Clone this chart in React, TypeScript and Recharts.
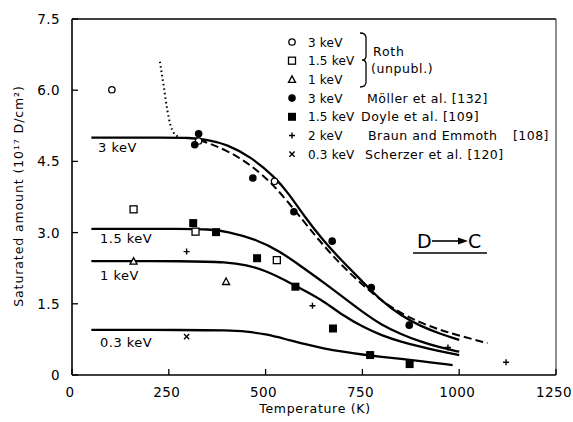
import React from 'react';
import { ComposedChart, Line, Scatter, XAxis, YAxis } from 'recharts';

const FONT = '"DejaVu Sans", "Liberation Sans", sans-serif';

const xTicks = [0, 250, 500, 750, 1000, 1250];
const yTicks = [0, 1.5, 3.0, 4.5, 6.0, 7.5];
const yTickLabels = ['0', '1.5', '3.0', '4.5', '6.0', '7.5'];

// measured points
const roth3 = [{ T: 103, v: 6.01 }, { T: 327, v: 4.93 }, { T: 523, v: 4.08 }];
const roth15 = [{ T: 159, v: 3.49 }, { T: 319, v: 3.02 }, { T: 529, v: 2.42 }];
const roth1 = [{ T: 159, v: 2.4 }, { T: 398, v: 1.97 }];
const moller3 = [
  { T: 327, v: 5.08 }, { T: 317, v: 4.85 }, { T: 467, v: 4.15 }, { T: 573, v: 3.44 },
  { T: 672, v: 2.82 }, { T: 773, v: 1.84 }, { T: 871, v: 1.05 },
];
const doyle15 = [
  { T: 313, v: 3.2 }, { T: 372, v: 3.01 }, { T: 478, v: 2.46 }, { T: 577, v: 1.86 },
  { T: 674, v: 0.98 }, { T: 770, v: 0.42 }, { T: 872, v: 0.23 },
];
const braun2 = [{ T: 296, v: 2.6 }, { T: 621, v: 1.46 }, { T: 971, v: 0.58 }, { T: 1121, v: 0.27 }];
const scherzer03 = [{ T: 296, v: 0.81 }];

// model curves
const curve3 = [
  { T: 50, v: 5.0 }, { T: 250, v: 5.0 }, { T: 300, v: 5.0 }, { T: 350, v: 4.96 }, { T: 400, v: 4.86 },
  { T: 461, v: 4.6 }, { T: 523, v: 4.18 }, { T: 560, v: 3.82 }, { T: 600, v: 3.34 },
  { T: 650, v: 2.82 }, { T: 700, v: 2.38 }, { T: 750, v: 1.97 }, { T: 800, v: 1.55 },
  { T: 850, v: 1.25 }, { T: 900, v: 1.03 }, { T: 950, v: 0.87 }, { T: 1000, v: 0.74 },
];
const dashed3 = [
  { T: 330, v: 4.95 }, { T: 400, v: 4.74 }, { T: 461, v: 4.43 }, { T: 523, v: 4.0 },
  { T: 600, v: 3.22 }, { T: 650, v: 2.72 }, { T: 700, v: 2.28 }, { T: 750, v: 1.9 },
  { T: 800, v: 1.56 }, { T: 850, v: 1.3 }, { T: 900, v: 1.1 }, { T: 950, v: 0.95 },
  { T: 1000, v: 0.83 }, { T: 1073, v: 0.67 },
];
const dotted3 = [
  { T: 227, v: 6.6 }, { T: 237, v: 6.08 }, { T: 246, v: 5.59 }, { T: 254, v: 5.27 },
  { T: 263, v: 5.1 }, { T: 275, v: 5.02 },
];
const curve15 = [
  { T: 50, v: 3.08 }, { T: 300, v: 3.08 }, { T: 350, v: 3.07 }, { T: 400, v: 3.03 }, { T: 478, v: 2.85 },
  { T: 538, v: 2.6 }, { T: 590, v: 2.3 }, { T: 650, v: 1.95 }, { T: 700, v: 1.64 },
  { T: 750, v: 1.33 }, { T: 800, v: 1.05 }, { T: 850, v: 0.86 }, { T: 900, v: 0.7 },
  { T: 950, v: 0.58 }, { T: 1000, v: 0.49 },
];
const curve1 = [
  { T: 50, v: 2.4 }, { T: 300, v: 2.4 }, { T: 400, v: 2.38 }, { T: 450, v: 2.32 }, { T: 500, v: 2.2 },
  { T: 550, v: 2.0 }, { T: 600, v: 1.78 }, { T: 650, v: 1.56 }, { T: 700, v: 1.25 },
  { T: 750, v: 1.02 }, { T: 800, v: 0.83 }, { T: 850, v: 0.7 }, { T: 900, v: 0.6 },
  { T: 950, v: 0.5 }, { T: 1000, v: 0.42 },
];
const curve03 = [
  { T: 50, v: 0.95 }, { T: 300, v: 0.95 }, { T: 400, v: 0.94 }, { T: 450, v: 0.92 }, { T: 500, v: 0.86 },
  { T: 550, v: 0.76 }, { T: 600, v: 0.65 }, { T: 650, v: 0.56 }, { T: 700, v: 0.49 }, { T: 750, v: 0.43 },
  { T: 800, v: 0.38 }, { T: 850, v: 0.34 }, { T: 900, v: 0.29 }, { T: 983, v: 0.21 },
];

const legendRows = [
  { energy: '3 keV', marker: 'openCircle' },
  { energy: '1.5 keV', marker: 'openSquare' },
  { energy: '1 keV', marker: 'openTriangle' },
  { energy: '3 keV', marker: 'dot', author: 'Möller et al. [132]', ax: 367 },
  { energy: '1.5 keV', marker: 'square', author: 'Doyle et al. [109]', ax: 361 },
  { energy: '2 keV', marker: 'plus', author: 'Braun and Emmoth', ax: 368, ref: '[108]' },
  { energy: '0.3 keV', marker: 'cross', author: 'Scherzer et al. [120]', ax: 365 },
];

const OpenCircle = ({ cx, cy }: any) => <circle cx={cx} cy={cy} r={3.2} fill="#fff" stroke="#000" strokeWidth={1.3} />;
const OpenSquare = ({ cx, cy }: any) => <rect x={cx - 3.5} y={cy - 3.5} width={7} height={7} fill="#fff" stroke="#000" strokeWidth={1.3} />;
const OpenTriangle = ({ cx, cy }: any) => (
  <path d={`M${cx},${cy - 3.5}L${cx + 3.5},${cy + 3}L${cx - 3.5},${cy + 3}Z`} fill="#fff" stroke="#000" strokeWidth={1.3} />
);
const Dot = ({ cx, cy }: any) => <circle cx={cx} cy={cy} r={3.8} fill="#000" />;
const FilledSquare = ({ cx, cy }: any) => <rect x={cx - 4} y={cy - 4} width={8} height={8} fill="#000" />;
const Plus = ({ cx, cy }: any) => (
  <path d={`M${cx - 3},${cy}H${cx + 3}M${cx},${cy - 3}V${cy + 3}`} stroke="#000" strokeWidth={1.4} />
);
const Cross = ({ cx, cy }: any) => (
  <path d={`M${cx - 2.6},${cy - 2.6}L${cx + 2.6},${cy + 2.6}M${cx + 2.6},${cy - 2.6}L${cx - 2.6},${cy + 2.6}`} stroke="#000" strokeWidth={1.4} />
);

const markers: Record<string, any> = {
  openCircle: OpenCircle, openSquare: OpenSquare, openTriangle: OpenTriangle,
  dot: Dot, square: FilledSquare, plus: Plus, cross: Cross,
};

const BottomTick = ({ x, y, payload }: any) => (
  <g>
    <line x1={x} x2={x} y1={y} y2={y - 6} stroke="#000" strokeWidth={1.3} />
    <text x={x - 2} y={y + 22} textAnchor="middle" fontFamily={FONT} fontSize={13.5} letterSpacing={0.4} fill="#000">
      {payload.value}
    </text>
  </g>
);
const TopTick = ({ x, y }: any) => <line x1={x} x2={x} y1={y} y2={y + 6} stroke="#000" strokeWidth={1.3} />;
const LeftTick = ({ x, y, payload }: any) => (
  <g>
    <line x1={x} x2={x + 6} y1={y} y2={y} stroke="#000" strokeWidth={1.3} />
    <text x={x - 12} y={y + 5} textAnchor="end" fontFamily={FONT} fontSize={13.5} letterSpacing={0.4} fill="#000">
      {yTickLabels[yTicks.indexOf(payload.value)]}
    </text>
  </g>
);
const RightTick = ({ x, y }: any) => <line x1={x} x2={x - 6} y1={y} y2={y} stroke="#000" strokeWidth={1.3} />;

const txt = { fontFamily: FONT, fill: '#000' };

const App = () => {
  const lineProps = { type: 'basis' as const, dataKey: 'v', dot: false, isAnimationActive: false, stroke: '#000' };
  return (
    <div style={{ position: 'absolute', left: 0, top: 0, width: 573, height: 422, background: '#fff' }}>
      <ComposedChart width={573} height={422} margin={{ top: 0, right: 0, bottom: 0, left: 0 }}>
        <XAxis xAxisId="top" orientation="top" type="number" domain={[0, 1250]} ticks={[250, 500, 750, 1000]}
          height={19} axisLine={{ stroke: '#000', strokeWidth: 1.3 }} tickLine={false} tickSize={0} tickMargin={0} tick={TopTick} />
        <XAxis dataKey="T" type="number" domain={[0, 1250]} ticks={xTicks} height={47}
          axisLine={{ stroke: '#000', strokeWidth: 1.6 }} tickLine={false} tickSize={0} tickMargin={0} tick={BottomTick} />
        <YAxis dataKey="v" type="number" domain={[0, 7.5]} ticks={yTicks} width={72}
          axisLine={{ stroke: '#000', strokeWidth: 1.6 }} tickLine={false} tickSize={0} tickMargin={0} tick={LeftTick} />
        <YAxis yAxisId="right" orientation="right" type="number" domain={[0, 7.5]} ticks={[1.5, 3.0, 4.5, 6.0]} width={17}
          axisLine={{ stroke: '#444', strokeWidth: 1.2 }} tickLine={false} tickSize={0} tickMargin={0} tick={RightTick} />

        <Line {...lineProps} data={curve3} strokeWidth={2.3} />
        <Line {...lineProps} data={dashed3} strokeWidth={2} strokeDasharray="8 4" />
        <Line {...lineProps} type="monotone" data={dotted3} strokeWidth={2} strokeDasharray="1.5 3" />
        <Line {...lineProps} data={curve15} strokeWidth={2.3} />
        <Line {...lineProps} data={curve1} strokeWidth={2.3} />
        <Line {...lineProps} data={curve03} strokeWidth={2.3} />

        <Scatter data={roth3} dataKey="v" shape={OpenCircle} isAnimationActive={false} />
        <Scatter data={roth15} dataKey="v" shape={OpenSquare} isAnimationActive={false} />
        <Scatter data={roth1} dataKey="v" shape={OpenTriangle} isAnimationActive={false} />
        <Scatter data={moller3} dataKey="v" shape={Dot} isAnimationActive={false} />
        <Scatter data={doyle15} dataKey="v" shape={FilledSquare} isAnimationActive={false} />
        <Scatter data={braun2} dataKey="v" shape={Plus} isAnimationActive={false} />
        <Scatter data={scherzer03} dataKey="v" shape={Cross} isAnimationActive={false} />
      </ComposedChart>

      <svg width={573} height={422} style={{ position: 'absolute', left: 0, top: 0, pointerEvents: 'none' }}>
        {legendRows.map((r, i) => {
          const cy = 42 + i * 18.7;
          const M = markers[r.marker];
          return (
            <g key={i}>
              <M cx={292} cy={cy} />
              <text x={308} y={cy + 4.5} fontSize={12} letterSpacing={0.2} {...txt}>{r.energy}</text>
              {r.author && <text x={r.ax} y={cy + 4.5} fontSize={12.5} letterSpacing={0.5} {...txt}>{r.author}</text>}
              {r.ref && <text x={549} y={cy + 4.5} textAnchor="end" fontSize={12.5} letterSpacing={0.5} {...txt}>{r.ref}</text>}
            </g>
          );
        })}
        <path d="M360,33 Q366,33 366,38 V56 Q366,60 362,60 Q366,60 366,64 V82 Q366,87 360,87" fill="none" stroke="#000" strokeWidth={1.3} />
        <text x={373} y={56} fontSize={12.5} letterSpacing={0.8} {...txt}>Roth</text>
        <text x={371} y={73} fontSize={12.5} letterSpacing={0.6} {...txt}>(unpubl.)</text>

        <text x={98} y={152} fontSize={13} letterSpacing={0.5} {...txt}>3 keV</text>
        <text x={100} y={243} fontSize={13} letterSpacing={0.5} {...txt}>1.5 keV</text>
        <text x={100} y={280} fontSize={13} letterSpacing={0.5} {...txt}>1 keV</text>
        <text x={100} y={347} fontSize={13} letterSpacing={0.5} {...txt}>0.3 keV</text>

        <text x={417} y={248} fontSize={19} {...txt}>D</text>
        <line x1={432} x2={462} y1={241} y2={241} stroke="#000" strokeWidth={1.6} />
        <path d="M468,241 L458,237.5 L458,244.5 Z" fill="#000" />
        <text x={468} y={248} fontSize={19} {...txt}>C</text>
        <line x1={413} x2={487} y1={253} y2={253} stroke="#000" strokeWidth={1.6} />

        <text x={315} y={413} textAnchor="middle" fontSize={12.5} letterSpacing={0.7} {...txt}>Temperature (K)</text>
        <text transform="translate(23,196) rotate(-90)" textAnchor="middle" fontSize={12.5} letterSpacing={0.9} {...txt}>
          Saturated amount (10¹⁷ D/cm²)
        </text>
      </svg>
    </div>
  );
};

export default App;
